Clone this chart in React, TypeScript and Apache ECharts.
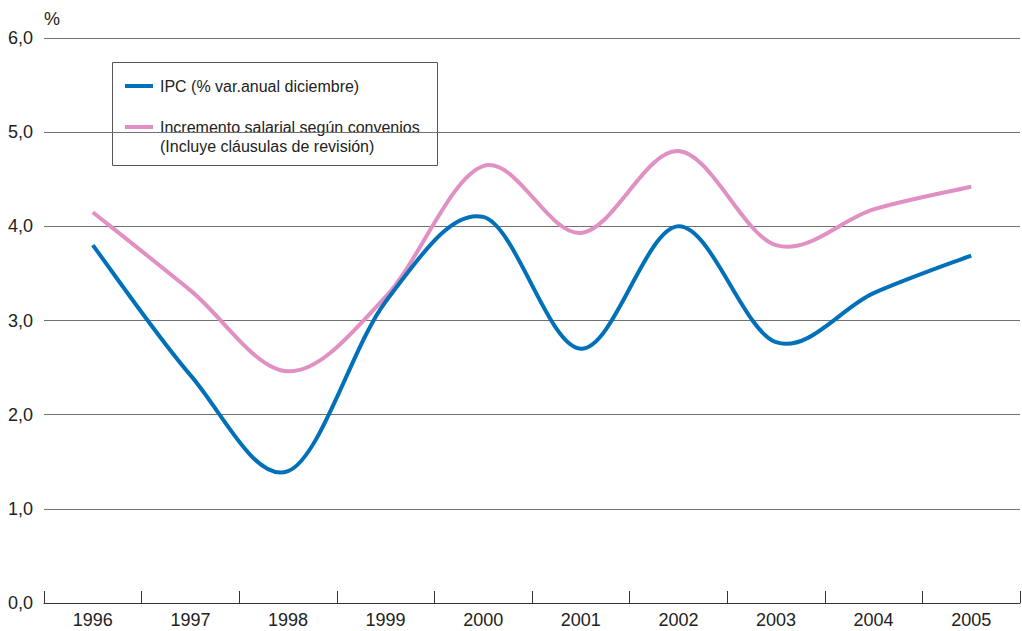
import React, { useEffect, useRef } from "react";
import * as echarts from "echarts";

const years = ["1996", "1997", "1998", "1999", "2000", "2001", "2002", "2003", "2004", "2005"];
const ipc = [3.8, 2.42, 1.4, 3.2, 4.1, 2.7, 4.0, 2.77, 3.29, 3.69];
const salarios = [4.15, 3.32, 2.46, 3.25, 4.64, 3.93, 4.8, 3.8, 4.18, 4.42];
const yTicks = [0, 1, 2, 3, 4, 5, 6];
const ipcName = "IPC (% var.anual diciembre)";
const salLine1 = "Incremento salarial según convenios";
const salLine2 = "(Incluye cláusulas de revisión)";

const BLUE = "#0071b9";
const PINK = "#e190c3";
const FONT = "'Liberation Sans', Arial, Helvetica, sans-serif";

// Cardinal (Catmull-Rom) curve through the points placed by the axes
function curveSeries(name: string, values: number[], color: string, z: number) {
  return {
    name,
    type: "custom",
    z,
    data: values.map((v, i) => [i, v]),
    encode: { x: 0, y: 1 },
    renderItem: (params: any, api: any) => {
      if (params.dataIndex !== 0) return null;
      const pts = values.map((v, i) => api.coord([i, v]));
      let d = `M${pts[0][0]},${pts[0][1]}`;
      for (let i = 0; i < pts.length - 1; i++) {
        const p0 = pts[i - 1] || pts[i];
        const p1 = pts[i];
        const p2 = pts[i + 1];
        const p3 = pts[i + 2] || pts[i + 1];
        const c1x = p1[0] + (p2[0] - p0[0]) / 6;
        const c1y = p1[1] + (p2[1] - p0[1]) / 6;
        const c2x = p2[0] - (p3[0] - p1[0]) / 6;
        const c2y = p2[1] - (p3[1] - p1[1]) / 6;
        d += ` C${c1x},${c1y} ${c2x},${c2y} ${p2[0]},${p2[1]}`;
      }
      return {
        type: "path",
        shape: { pathData: d },
        style: { fill: "none", stroke: color, lineWidth: 4, lineJoin: "round" },
      };
    },
  };
}

export default function App() {
  const ref = useRef<HTMLDivElement>(null);
  useEffect(() => {
    if (!ref.current) return;
    const chart = echarts.init(ref.current, undefined, { renderer: "svg" });
    chart.setOption({
      animation: false,
      backgroundColor: "#ffffff",
      textStyle: { fontFamily: FONT },
      grid: { left: 44, right: 2, top: 38, bottom: 28, containLabel: false },
      xAxis: {
        type: "category",
        data: years,
        boundaryGap: true,
        axisLine: { show: true, lineStyle: { color: "#333", width: 1 } },
        axisTick: { show: true, inside: true, length: 12, lineStyle: { color: "#333", width: 1 } },
        axisLabel: { fontSize: 18, color: "#222", margin: 8, fontFamily: FONT },
        splitLine: { show: false },
      },
      yAxis: {
        type: "value",
        min: yTicks[0],
        max: yTicks[yTicks.length - 1],
        interval: 1,
        name: "%",
        nameLocation: "end",
        nameGap: 10,
        nameTextStyle: { fontSize: 18, color: "#222", align: "left", fontFamily: FONT },
        axisLine: { show: false },
        axisTick: { show: false },
        axisLabel: {
          fontSize: 18,
          color: "#222",
          margin: 11,
          fontFamily: FONT,
          formatter: (v: number) => v.toFixed(1).replace(".", ","),
        },
        splitLine: { show: true, lineStyle: { color: "#707070", width: 1 } },
      },
      series: [
        curveSeries(salLine1, salarios, PINK, 3),
        curveSeries(ipcName, ipc, BLUE, 4),
      ],
      graphic: [
        {
          type: "group",
          z: 100,
          children: [
            {
              type: "rect",
              shape: { x: 112.5, y: 62.5, width: 325, height: 103 },
              style: { fill: "#ffffff", stroke: "#555", lineWidth: 1 },
            },
            {
              type: "line",
              shape: { x1: 125, y1: 86, x2: 153, y2: 86 },
              style: { stroke: BLUE, lineWidth: 4 },
            },
            {
              type: "text",
              x: 160,
              y: 86,
              style: { text: ipcName, fontSize: 16, fill: "#222", fontFamily: FONT, verticalAlign: "middle" },
            },
            {
              type: "line",
              shape: { x1: 125, y1: 127, x2: 153, y2: 127 },
              style: { stroke: PINK, lineWidth: 4 },
            },
            {
              type: "text",
              x: 160,
              y: 127,
              style: { text: salLine1, fontSize: 16, fill: "#222", fontFamily: FONT, verticalAlign: "middle" },
            },
            {
              type: "text",
              x: 160,
              y: 146.5,
              style: { text: salLine2, fontSize: 16, fill: "#222", fontFamily: FONT, verticalAlign: "middle" },
            },
          ],
        },
      ],
    });
    return () => chart.dispose();
  }, []);
  return <div ref={ref} style={{ position: "fixed", left: 0, top: 0, width: 1022, height: 631 }} />;
}
